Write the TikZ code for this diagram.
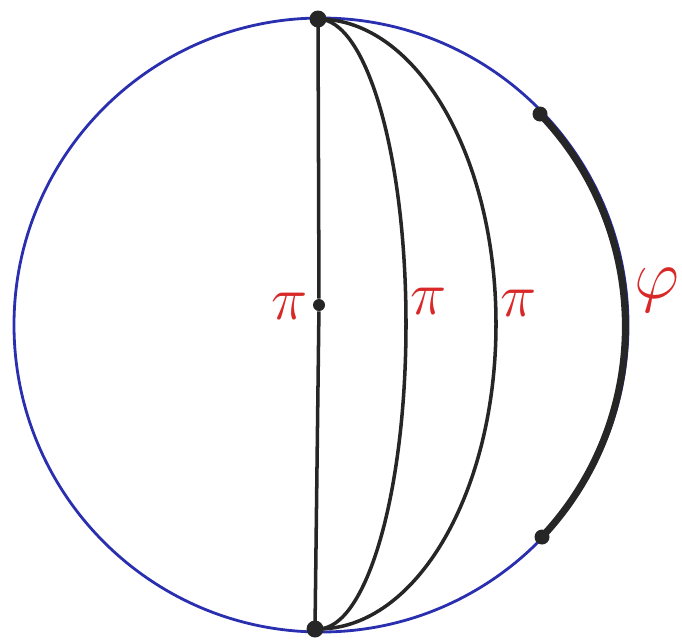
\documentclass[tikz,border=0pt]{standalone}
\usepackage{xcolor}
\usepackage{tikz}
\usetikzlibrary{positioning}
\definecolor{penblue}{HTML}{2A2FB0}
\definecolor{ink}{HTML}{262626}
\definecolor{penred}{HTML}{D82828}
\newcommand{\bigsym}[2]{\scalebox{#1}{$#2$}}

\begin{document}
\begin{tikzpicture}[x=0.02cm, y=-0.02cm,
    dot/.style={circle, fill=ink, inner sep=0pt, minimum size=#1},
    dot/.default=0.34cm,
    rim/.style={draw=penblue, line width=1.6pt},
    geod/.style={draw=ink, line width=2pt},
    bold/.style={draw=ink, line width=4pt},
    lbl/.style={text=penred, inner sep=0pt, font=\Huge}
]
    \useasboundingbox (0,0) rectangle (682,640);

    \coordinate (o) at (321,325);
    \draw[rim] (o) circle (307);

    \node[dot] (top) at (318,19) {};
    \node[dot] (bot) at (315,629) {};
    \node[dot=0.24cm] (mid) at (319,305) {};
    \node[dot=0.3cm] (p1) at (540,114) {};
    \node[dot=0.3cm] (p2) at (542,537) {};

    % the three half great circles
    \draw[geod] (top.center) -- (mid) -- (bot.center);
    \draw[geod] (top.center) arc[start angle=-90, end angle=90, x radius=88, y radius=305];
    \draw[geod] (top.center) arc[start angle=-90, end angle=90, x radius=178, y radius=305];

    % arc of length phi
    \draw[bold] (p1.center) arc[start angle=-43.8, end angle=43.8, radius=307];

    \node[lbl] (pi1) at (290,306) {\bigsym{1.4}{\pi}};
    \node[lbl] (pi2) at (429,301) {\bigsym{1.4}{\pi}};
    \node[lbl] (pi3) at (519,303) {\bigsym{1.4}{\pi}};
    \node[lbl] (phi) at (657,290) {\bigsym{1.6}{\varphi}};
\end{tikzpicture}
\end{document}
